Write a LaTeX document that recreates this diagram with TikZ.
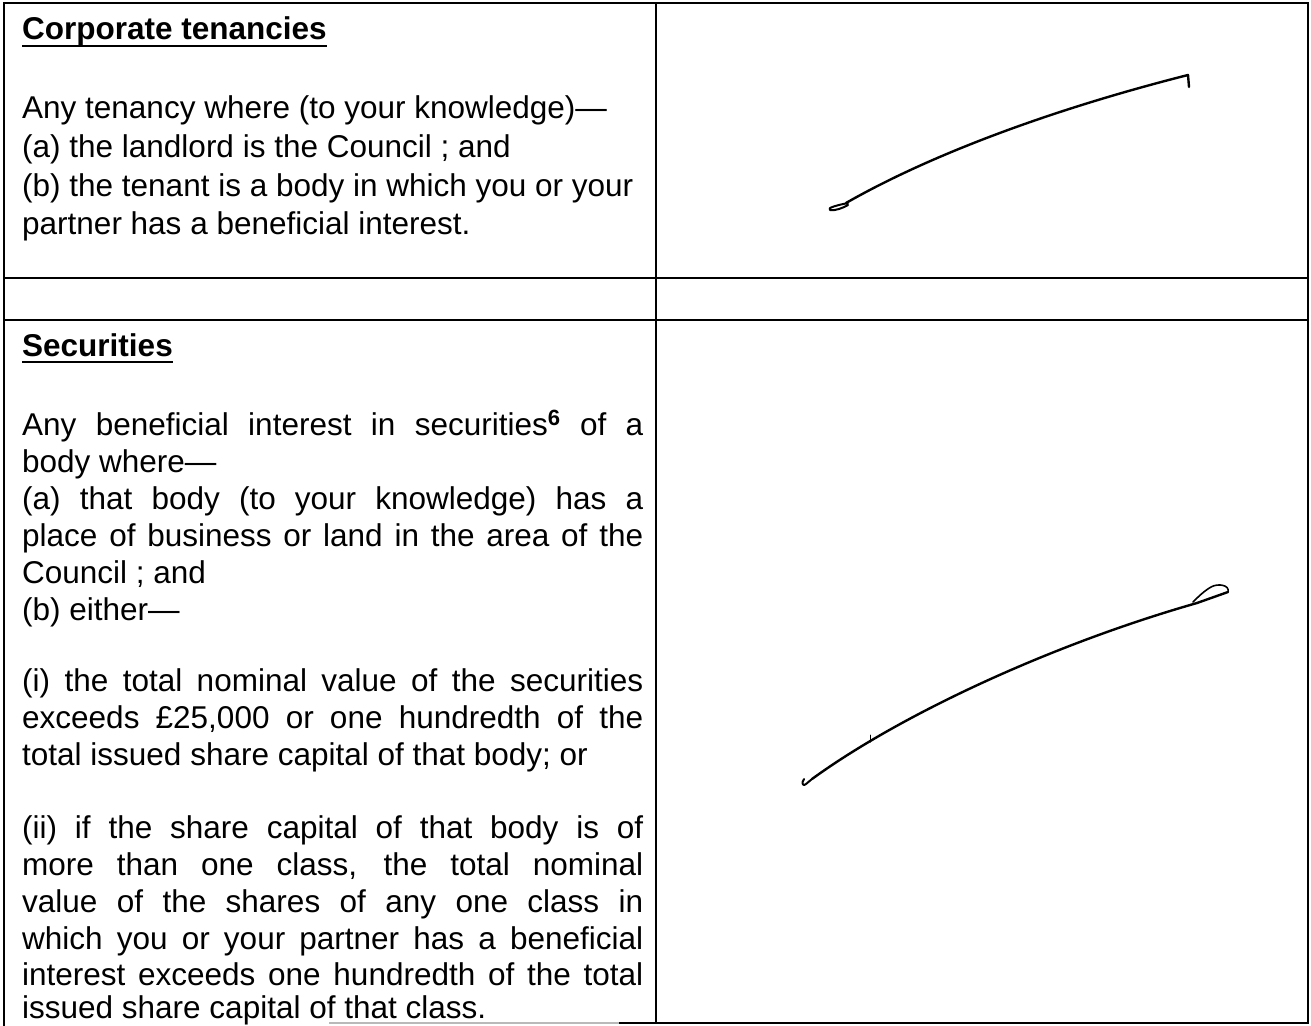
\documentclass[tikz,border=0pt]{standalone}
\usepackage{fontspec}
\setmainfont{Liberation Sans}
\begin{document}
\begin{tikzpicture}[x=1pt,y=-1pt,
  grid/.style={line width=2pt,line cap=rect},
  txt/.style={anchor=base west,inner sep=0pt,font=\fontsize{31.5}{37}\selectfont},
  head/.style={txt,font=\fontsize{31.5}{37}\selectfont\bfseries},
  uline/.style={line width=2.6pt},
  sig/.style={line width=2.4pt,line cap=round,line join=round}]
\useasboundingbox[fill=white] (0,0) rectangle (1311,1025);
% table
\draw[grid] (4,1025) -- (4,3) -- (1308,3) -- (1308,1023);
\draw[grid] (656,3) -- (656,1023);
\draw[grid] (4,278) -- (1308,278);
\draw[grid] (4,320) -- (1308,320);
\draw[grid,gray!55] (330,1023) -- (620,1023);
\draw[grid] (620,1023) -- (1308,1023);
% upper cell
\node[head] (h1) at (22,40) {Corporate tenancies};
\draw[uline] ([yshift=-6pt]h1.base west) -- ([yshift=-6pt]h1.base east);
\node[txt] (u1) at (22,118) {Any tenancy where (to your knowledge)—};
\node[txt] (u2) at (22,157) {(a) the landlord is the Council ; and};
\node[txt] (u3) at (22,196) {(b) the tenant is a body in which you or your};
\node[txt] (u4) at (22,234) {partner has a beneficial interest.};
% lower cell
\node[head] (h2) at (22,356) {Securities};
\draw[uline] ([yshift=-6pt]h2.base west) -- ([yshift=-6pt]h2.base east);
\node[txt] (l1) at (22,435) {\makebox[621pt][s]{Any beneficial interest in securities\textsuperscript{\bfseries 6} of a}};
\node[txt] (l2) at (22,472) {body where—};
\node[txt] (l3) at (22,509) {\makebox[621pt][s]{(a) that body (to your knowledge) has a}};
\node[txt] (l4) at (22,546) {\makebox[621pt][s]{place of business or land in the area of the}};
\node[txt] (l5) at (22,583) {Council ; and};
\node[txt] (l6) at (22,620) {(b) either—};
\node[txt] (l7) at (22,691) {\makebox[621pt][s]{(i) the total nominal value of the securities}};
\node[txt] (l8) at (22,728) {\makebox[621pt][s]{exceeds £25,000 or one hundredth of the}};
\node[txt] (l9) at (22,765) {total issued share capital of that body; or};
\node[txt] (m1) at (22,838) {\makebox[621pt][s]{(ii) if the share capital of that body is of}};
\node[txt] (m2) at (22,875) {\makebox[621pt][s]{more than one class, the total nominal}};
\node[txt] (m3) at (22,912) {\makebox[621pt][s]{value of the shares of any one class in}};
\node[txt] (m4) at (22,949) {\makebox[621pt][s]{which you or your partner has a beneficial}};
\node[txt] (m5) at (22,985) {\makebox[621pt][s]{interest exceeds one hundredth of the total}};
\node[txt] (m6) at (22,1018) {issued share capital of that class.};
% upper signature stroke
\draw[sig] (846,203) .. controls (930,155) and (1050,110) .. (1188,75) -- (1189,87);
\draw[sig,line width=2pt] (848,203) .. controls (838,205) and (826,208) .. (830,210) .. controls (835,211) and (843,208) .. (848,205);
% lower signature stroke
\draw[sig] (812,779) .. controls (900,715) and (1050,645) .. (1197,603) -- (1228,592);
\draw[sig,line width=1.6pt] (1228,592) .. controls (1230,585) and (1218,583) .. (1211,587) .. controls (1204,591) and (1198,597) .. (1193,602);
\draw[sig,line width=2pt] (812,779) -- (806,784) .. controls (803,787) and (801,783) .. (804,779);
\draw[sig,line width=1pt] (870,735) -- (870,742);
\end{tikzpicture}
\end{document}
